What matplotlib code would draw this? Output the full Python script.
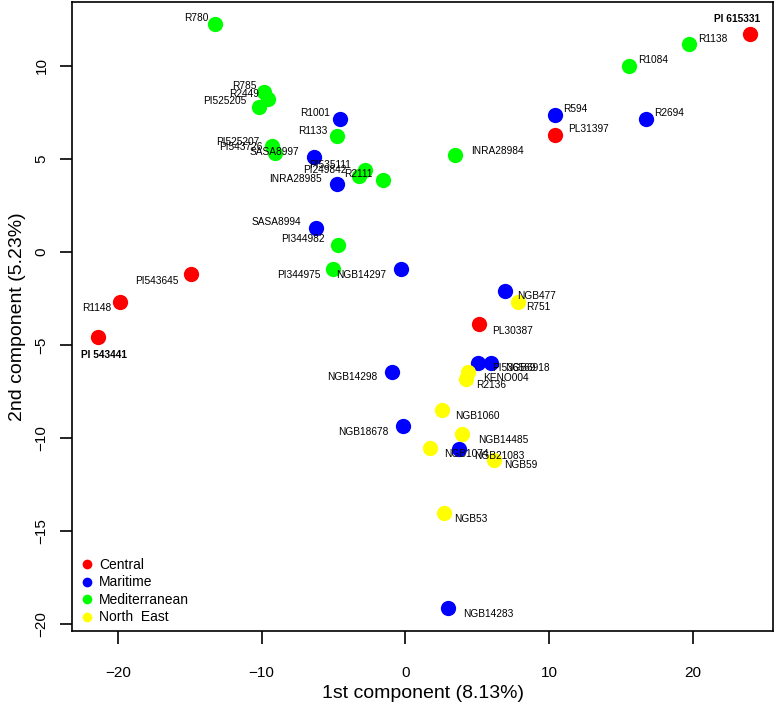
"""PCA scatter of accessions coloured by origin"""
import matplotlib
matplotlib.use("Agg")
import matplotlib.pyplot as plt
from matplotlib.lines import Line2D

plt.rcParams["font.family"] = ["Liberation Sans", "DejaVu Sans"]

# group names and their colours
groups = ["Central", "Maritime", "Mediterranean", "North  East"]
group_colors = ["#FF0000", "#0000FF", "#00FF00", "#FFFF00"]

# accessions per group: names, 1st and 2nd component scores
central_names = ["PI 615331", "PL31397", "PI543645", "R1148", "PI 543441", "PL30387"]
central_pc1 = [24.03, 10.40, -14.92, -19.86, -21.39, 5.11]
central_pc2 = [11.72, 6.30, -1.17, -2.67, -4.55, -3.85]

maritime_names = ["R1001", "R594", "R2694", "SASA8997", "INRA28985", "SASA8994",
                  "NGB14297", "NGB477", "PI536569", "NGB6918", "NGB14298",
                  "NGB18678", "NGB21083", "NGB14283"]
maritime_pc1 = [-4.56, 10.40, 16.73, -6.37, -4.77, -6.23, -0.31, 6.92, 5.04, 5.95,
                -0.94, -0.17, 3.72, 2.96]
maritime_pc2 = [7.15, 7.37, 7.15, 5.12, 3.67, 1.31, -0.90, -2.08, -5.94, -5.94,
                -6.47, -9.33, -10.61, -19.15]

medit_names = ["R780", "R1138", "R1084", "R785", "R2449", "PI525205", "R1133",
               "INRA28984", "PI525207", "PI543726", "PI535111", "PI249842", "R2111",
               "PI344982", "PI344975"]
medit_pc1 = [-13.25, 19.72, 15.58, -9.84, -9.57, -10.19, -4.77, 3.44, -9.29, -9.08,
             -2.82, -3.23, -1.57, -4.70, -5.04]
medit_pc2 = [12.25, 11.18, 10.00, 8.60, 8.23, 7.80, 6.24, 5.22, 5.71, 5.33, 4.42,
             4.10, 3.88, 0.39, -0.90]

northeast_names = ["R751", "KENO004", "R2136", "NGB1060", "NGB14485", "NGB1074",
                   "NGB59", "NGB53"]
northeast_pc1 = [7.83, 4.35, 4.21, 2.54, 3.93, 1.70, 6.16, 2.68]
northeast_pc2 = [-2.68, -6.46, -6.84, -8.51, -9.79, -10.54, -11.19, -14.05]

bold_labels = ["PI 615331", "PI 543441"]

# label placement (pixel offset of the text's left edge from the point)
label_offsets = {
    "PI 615331": (-36, 15), "PL31397": (13, 6), "PI543645": (-56, -7),
    "R1148": (-38, -6), "PI 543441": (-17, -18), "PL30387": (13, -7),
    "R1001": (-40, 6), "R594": (8, 6), "R2694": (9, 6), "SASA8997": (-64, 5),
    "INRA28985": (-68, 5), "SASA8994": (-64, 6), "NGB14297": (-65, -6),
    "NGB477": (12, -5), "PI536569": (14, -5), "NGB6918": (14, -5),
    "NGB14298": (-65, -5), "NGB18678": (-65, -6), "NGB21083": (15, -7),
    "NGB14283": (15, -6), "R780": (-31, 6), "R1138": (10, 5), "R1084": (9, 6),
    "R785": (-32, 6), "R2449": (-39, 5), "PI525205": (-56, 6), "R1133": (-39, 5),
    "INRA28984": (16, 4), "PI525207": (-56, 4), "PI543726": (-56, 6),
    "PI535111": (-56, 5), "PI249842": (-56, 6), "R2111": (-39, 6),
    "PI344982": (-57, 6), "PI344975": (-56, -6), "R751": (8, -5),
    "KENO004": (15, -6), "R2136": (10, -6), "NGB1060": (13, -6),
    "NGB14485": (16, -6), "NGB1074": (14, -6), "NGB59": (10, -5), "NGB53": (10, -6),
}

series = [
    (central_names, central_pc1, central_pc2),
    (maritime_names, maritime_pc1, maritime_pc2),
    (medit_names, medit_pc1, medit_pc2),
    (northeast_names, northeast_pc1, northeast_pc2),
]

fig = plt.figure(figsize=(7.78, 7.07), dpi=100)
ax = fig.add_axes([72 / 778, 76 / 707, 701 / 778, 629 / 707])

for (names, pc1, pc2), color in zip(series, group_colors):
    ax.plot(pc1, pc2, "o", color=color, markersize=11, markeredgewidth=0, zorder=3)
    for name, x, y in zip(names, pc1, pc2):
        dx, dy = label_offsets[name]
        ax.annotate(name, (x, y), xytext=(dx, dy), textcoords="offset pixels",
                    ha="left", va="center", fontsize=7.3,
                    fontweight="bold" if name in bold_labels else "normal",
                    zorder=4)

ax.set_xlim(-23.2, 25.6)
ax.set_ylim(-20.37, 13.44)
ax.set_xticks([-20, -10, 0, 10, 20])
ax.set_yticks([-20, -15, -10, -5, 0, 5, 10])
ax.tick_params(direction="out", length=9, width=1.2, labelsize=11, pad=16)
ax.tick_params(axis="y", pad=8)
for label in ax.get_yticklabels():
    label.set_rotation(90)
    label.set_va("center")
for spine in ax.spines.values():
    spine.set_linewidth(1.2)

ax.set_xlabel("1st component (8.13%)", fontsize=14, labelpad=4)
ax.set_ylabel("2nd component (5.23%)", fontsize=14, labelpad=6)

handles = [Line2D([], [], marker="o", linestyle="", color=c, markersize=7,
                  markeredgewidth=0) for c in group_colors]
ax.legend(handles, groups, loc="lower left", bbox_to_anchor=(-0.005, -0.005),
          frameon=False, fontsize=10, handletextpad=0.3, labelspacing=0.25,
          handlelength=1.2, borderaxespad=0.3)

fig.savefig("out.png", dpi=100)
